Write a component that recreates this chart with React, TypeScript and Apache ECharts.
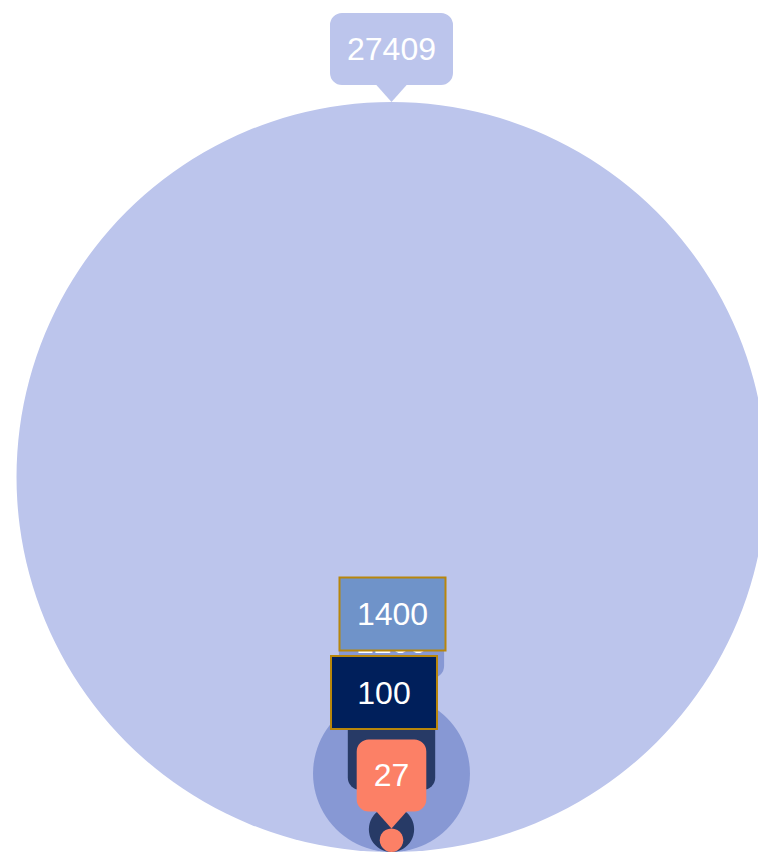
import React, { useEffect, useRef } from "react";
import * as echarts from "echarts";

// Bubble values (circle area proportional to value) and their colours
const values = [27409, 1200, 100, 27];
const colors = ["#bcc5ec", "#8798d4", "#273a66", "#fc8066"];

// Highlight boxes
const boxValues = [1400, 100];
const boxColors = ["#6f93c9", "#001f5b"];
const boxOffsets = [
  [1, -238],
  [-7.5, -159.5],
];
const boxBorder = "#b8860b";

const SCALE = 4.53;
const diam = (v: number) => SCALE * Math.sqrt(v);
const TAIL_W = 32;
const TAIL_H = 18;
const FONT = "'Liberation Sans', Arial, sans-serif";

export default function App() {
  const ref = useRef<HTMLDivElement>(null);
  useEffect(() => {
    if (!ref.current) return;
    const chart = echarts.init(ref.current, undefined, { renderer: "svg" });
    chart.setOption({
      animation: false,
      grid: { left: 25, right: 0, top: 0, bottom: 0 },
      xAxis: { type: "value", min: -1, max: 1, show: false },
      yAxis: { type: "value", min: 0, max: 1, show: false },
      series: [
        {
          type: "scatter",
          silent: true,
          clip: false,
          z: 2,
          itemStyle: { opacity: 1 },
          data: values.map((v, i) => ({
            value: [0, 0, v],
            symbol: "circle",
            symbolSize: diam(v),
            symbolOffset: [0, -diam(v) / 2],
            itemStyle: { color: colors[i], opacity: 1 },
          })),
        },
        {
          type: "scatter",
          silent: true,
          clip: false,
          z: 3,
          itemStyle: { opacity: 1 },
          data: values.map((v, i) => ({
            value: [0, 0, v],
            symbol: "path://M0,0L32,0L16,18Z",
            symbolSize: [TAIL_W, TAIL_H],
            symbolOffset: [0, -(diam(v) + TAIL_H / 2)],
            itemStyle: { color: colors[i], opacity: 1 },
            label: {
              show: true,
              position: "top",
              distance: -1,
              formatter: String(v),
              color: "#ffffff",
              fontSize: 32,
              fontFamily: FONT,
              lineHeight: 32,
              backgroundColor: colors[i],
              borderRadius: 12,
              padding: [20, 17],
            },
          })),
        },
        {
          type: "scatter",
          silent: true,
          clip: false,
          z: 4,
          itemStyle: { opacity: 1 },
          data: boxValues.map((v, i) => ({
            value: [0, 0, v],
            symbolSize: 0,
            itemStyle: { opacity: 1 },
            label: {
              show: true,
              position: "inside",
              offset: boxOffsets[i],
              formatter: String(v),
              color: "#ffffff",
              opacity: 1,
              fontSize: 32,
              fontFamily: FONT,
              lineHeight: 32,
              width: 70,
              align: "center",
              backgroundColor: boxColors[i],
              borderColor: boxBorder,
              borderWidth: 2,
              padding: [19.5, 17],
            },
          })),
        },
      ],
    });
    return () => chart.dispose();
  }, []);
  return (
    <div
      ref={ref}
      style={{ position: "absolute", left: 0, top: 0, width: 758, height: 852 }}
    />
  );
}
